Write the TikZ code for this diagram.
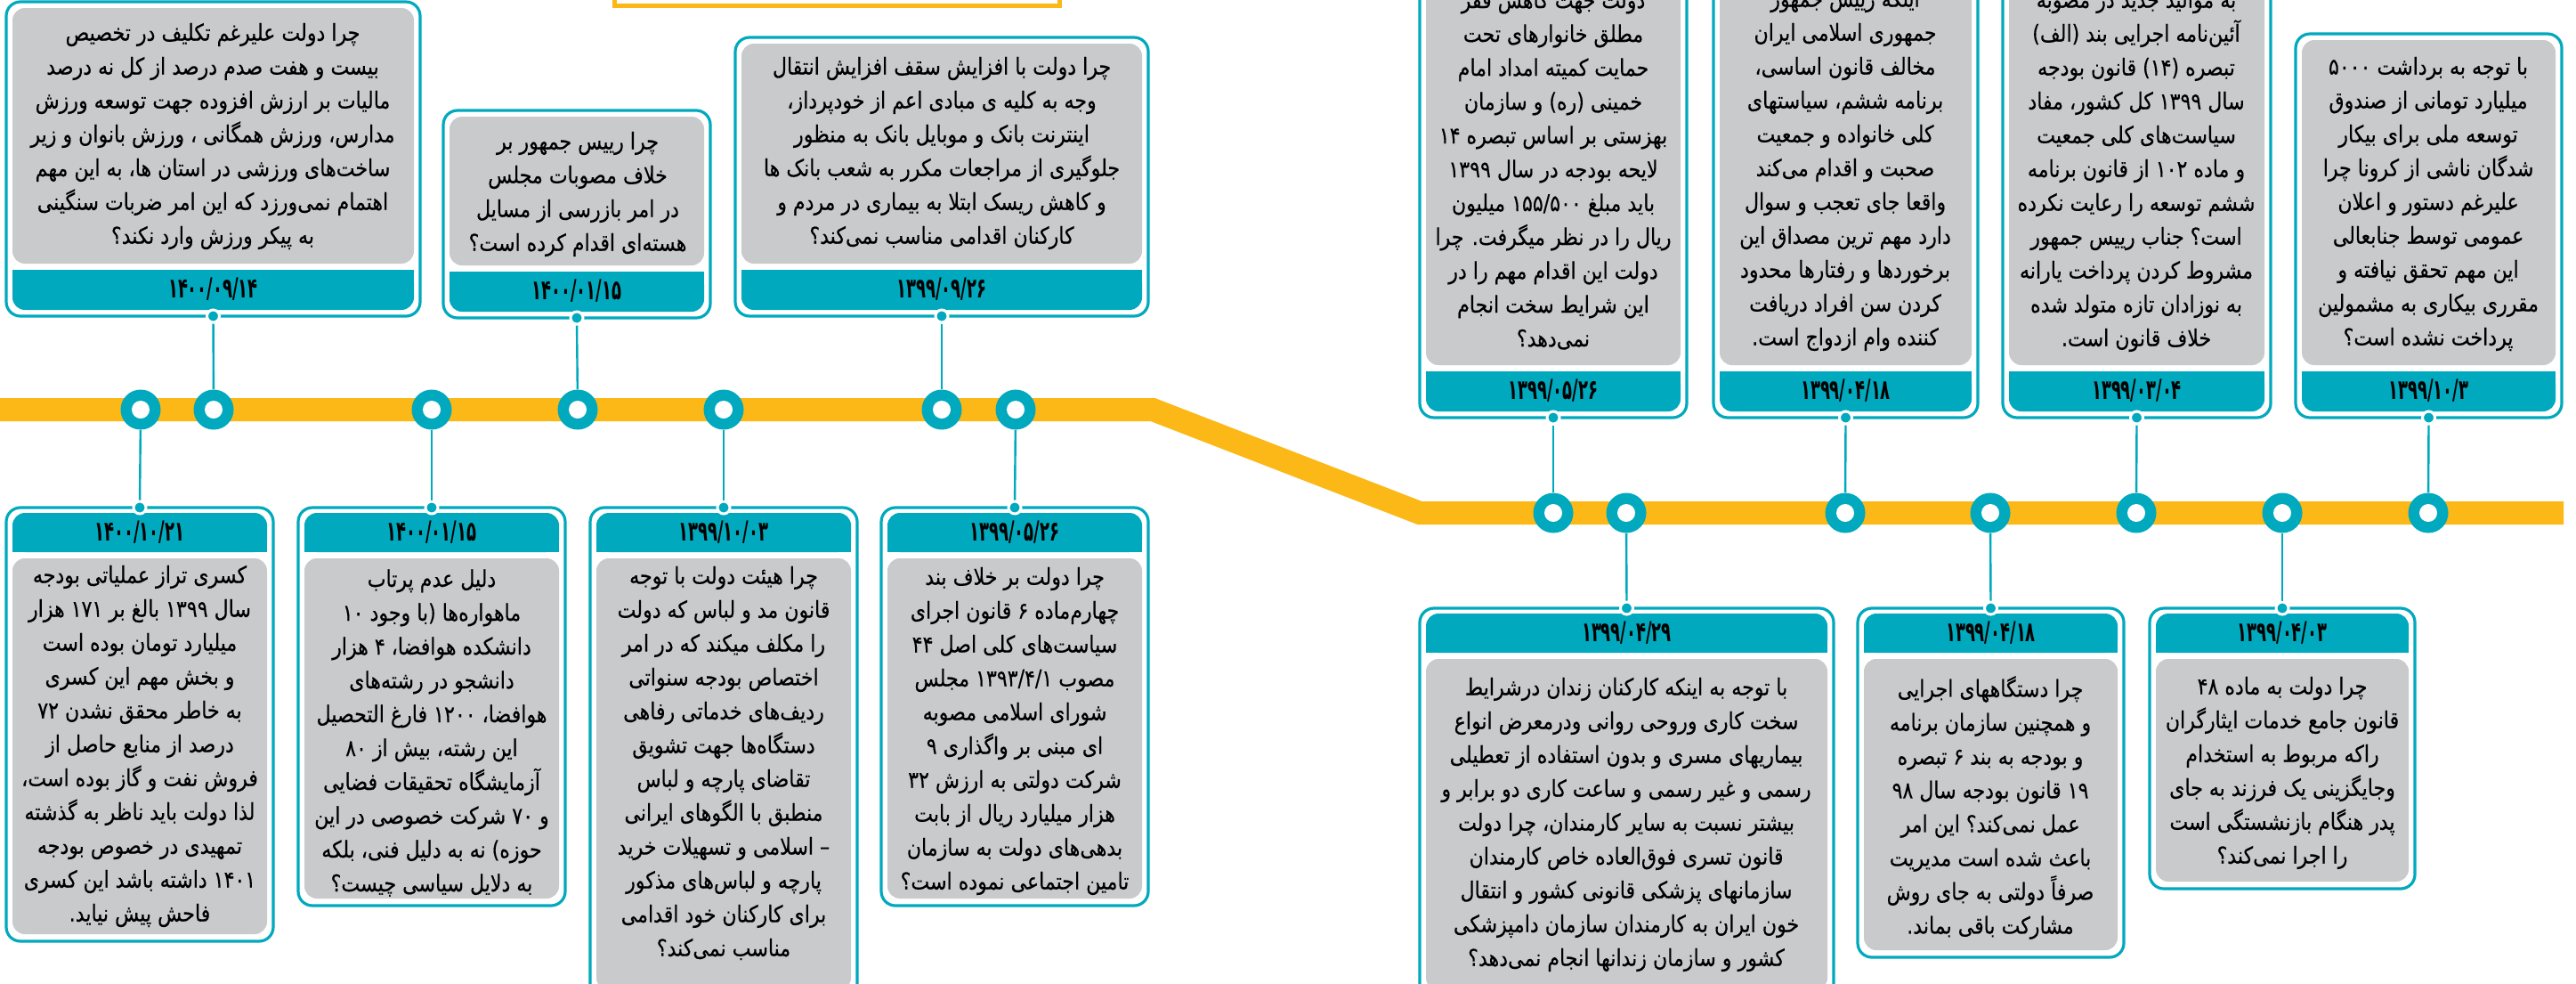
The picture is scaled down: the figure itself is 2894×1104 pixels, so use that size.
\documentclass[tikz,border=0pt]{standalone}
\usepackage{fontspec}
\newfontfamily\fa[Script=Arabic,FakeStretch=0.85,FakeBold=0.4]{DejaVu Sans}
\newfontfamily\fadate[Script=Arabic,FakeStretch=0.58]{DejaVu Sans}
\TeXXeTstate=1
\newcommand\RL[1]{\beginR #1\endR}
\definecolor{tl}{HTML}{00A9BD}
\definecolor{gbox}{HTML}{C9CACC}
\definecolor{yel}{HTML}{FBB817}
\tikzset{
 cardborder/.style={draw=tl, line width=1.6pt, rounded corners=8pt, fill=white},
 graybox/.style={fill=gbox, rounded corners=7pt},
 datebar/.style={fill=tl},
 datetext/.style={font=\fadate\bfseries\fontsize{15.5}{18}\selectfont, inner sep=0pt},
 body/.style={font=\fa\fontsize{13}{19}\selectfont, align=center, inner sep=0pt},
 carddot/.style={circle, fill=tl, draw=white, line width=1.5pt, minimum size=7pt, inner sep=0pt},
 tlcircle/.style={circle, fill=tl, minimum size=22.5pt, inner sep=0pt,
   path picture={\fill[white] (path picture bounding box.center) circle (5pt);}},
 conn/.style={draw=tl, line width=1.2pt},
 band/.style={draw=yel, line width=13pt},
}
\newcommand\topcard[6]{%
 \path[cardborder] (#2,#3) rectangle (#4,#5);
 \path[graybox] (#2+7,#3+7) rectangle (#4-7,#5-59);
 \path[datebar, rounded corners=7pt] (#2+7,#5-52) rectangle (#4-7,#5-7);
 \path[datebar] (#2+7,#5-52) rectangle (#4-7,#5-28);
 \node[datetext] (#1date) at ({(#2+#4)/2},#5-30) {#6};
 \node[carddot] (#1dot) at ({(#2+#4)/2},#5) {};
}
\newcommand\botcard[6]{%
 \path[cardborder] (#2,#3) rectangle (#4,#5);
 \path[datebar, rounded corners=7pt] (#2+7,#3+6) rectangle (#4-7,#3+50);
 \path[datebar] (#2+7,#3+28) rectangle (#4-7,#3+50);
 \path[graybox] (#2+7,#3+57) rectangle (#4-7,#5-8);
 \node[datetext] (#1date) at ({(#2+#4)/2},#3+28) {#6};
 \node[carddot] (#1dot) at ({(#2+#4)/2},#3) {};
}
\begin{document}
\begin{tikzpicture}[x=0.5pt,y=-0.5pt]
\useasboundingbox (0,0) rectangle (2894,1104);
\clip (0,0) rectangle (2894,1104);
\fill[white] (0,0) rectangle (2894,1104);
% top remnant
\path[draw=yel, line width=2.5pt, fill=white] (690,-30) rectangle (1190,6);
% timeline band
\draw[band] (-10,460) -- (1295,460) -- (1595,576) -- (2880,576);
% top cards
\topcard{A}{7}{2}{472}{355}{۱۴۰۰/۰۹/۱۴}
\topcard{B}{498}{124}{798}{357}{۱۴۰۰/۰۱/۱۵}
\topcard{C}{826}{42}{1290}{355}{۱۳۹۹/۰۹/۲۶}
\topcard{D}{1595}{-60}{1895}{469}{۱۳۹۹/۰۵/۲۶}
\topcard{E}{1925}{-60}{2222}{469}{۱۳۹۹/۰۴/۱۸}
\topcard{F}{2250}{-60}{2551}{469}{۱۳۹۹/۰۳/۰۴}
\topcard{G}{2579}{38}{2878}{469}{۱۳۹۹/۱۰/۳}
% bottom cards
\botcard{K}{7}{570}{307}{1057}{۱۴۰۰/۱۰/۲۱}
\botcard{L}{335}{570}{635}{1017}{۱۴۰۰/۰۱/۱۵}
\botcard{M}{663}{570}{963}{1120}{۱۳۹۹/۱۰/۰۳}
\botcard{N}{990}{570}{1290}{1017}{۱۳۹۹/۰۵/۲۶}
\botcard{H}{1595}{683}{2060}{1120}{۱۳۹۹/۰۴/۲۹}
\botcard{I}{2087}{683}{2386}{1075}{۱۳۹۹/۰۴/۱۸}
\botcard{J}{2415}{683}{2713}{998}{۱۳۹۹/۰۴/۰۳}
% texts
\node[body] (Atext) at (239,153) {\RL{چرا دولت علیرغم تکلیف در تخصیص}\\\RL{بیست و هفت صدم درصد از کل نه درصد}\\\RL{مالیات بر ارزش افزوده جهت توسعه ورزش}\\\RL{مدارس، ورزش همگانی ، ورزش بانوان و زیر}\\\RL{ساخت‌های ورزشی در استان ها، به این مهم}\\\RL{اهتمام نمی‌ورزد که این امر ضربات سنگینی}\\\RL{به پیکر ورزش وارد نکند؟}};
\node[body] (Btext) at (649,218) {\RL{چرا رییس جمهور بر}\\\RL{خلاف مصوبات مجلس}\\\RL{در امر بازرسی از مسایل}\\\RL{هسته‌ای اقدام کرده است؟}};
\node[body] (Ctext) at (1058,172) {\RL{چرا دولت با افزایش سقف افزایش انتقال}\\\RL{وجه به کلیه ی مبادی اعم از خودپرداز،}\\\RL{اینترنت بانک و موبایل بانک به منظور}\\\RL{جلوگیری از مراجعات مکرر به شعب بانک ها}\\\RL{و کاهش ریسک ابتلا به بیماری در مردم و}\\\RL{کارکنان اقدامی مناسب نمی‌کند؟}};
\node[body] (Dtext) at (1745,191) {\RL{دولت جهت کاهش فقر}\\\RL{مطلق خانوارهای تحت}\\\RL{حمایت کمیته امداد امام}\\\RL{خمینی (ره) و سازمان}\\\RL{بهزستی بر اساس تبصره ۱۴}\\\RL{لایحه بودجه در سال ۱۳۹۹}\\\RL{باید مبلغ ۱۵۵/۵۰۰ میلیون}\\\RL{ریال را در نظر میگرفت. چرا}\\\RL{دولت این اقدام مهم را در}\\\RL{این شرایط سخت انجام}\\\RL{نمی‌دهد؟}};
\node[body] (Etext) at (2073,191) {\RL{اینکه رییس جمهور}\\\RL{جمهوری اسلامی ایران}\\\RL{مخالف قانون اساسی،}\\\RL{برنامه ششم، سیاستهای}\\\RL{کلی خانواده و جمعیت}\\\RL{صحبت و اقدام می‌کند}\\\RL{واقعا جای تعجب و سوال}\\\RL{دارد مهم ترین مصداق این}\\\RL{برخوردها و رفتارها محدود}\\\RL{کردن سن افراد دریافت}\\\RL{کننده وام ازدواج است.}};
\node[body] (Ftext) at (2400,192) {\RL{به موالید جدید در مصوبه}\\\RL{آئین‌نامه اجرایی بند (الف)}\\\RL{تبصره (۱۴) قانون بودجه}\\\RL{سال ۱۳۹۹ کل کشور، مفاد}\\\RL{سیاست‌های کلی جمعیت}\\\RL{و ماده ۱۰۲ از قانون برنامه}\\\RL{ششم توسعه را رعایت نکرده}\\\RL{است؟ جناب رییس جمهور}\\\RL{مشروط کردن پرداخت یارانه}\\\RL{به نوزادان تازه متولد شده}\\\RL{خلاف قانون است.}};
\node[body] (Gtext) at (2728,229) {\RL{با توجه به برداشت ۵۰۰۰}\\\RL{میلیارد تومانی از صندوق}\\\RL{توسعه ملی برای بیکار}\\\RL{شدگان ناشی از کرونا چرا}\\\RL{علیرغم دستور و اعلان}\\\RL{عمومی توسط جنابعالی}\\\RL{این مهم تحقق نیافته و}\\\RL{مقرری بیکاری به مشمولین}\\\RL{پرداخت نشده است؟}};
\node[body] (Ktext) at (157,838) {\RL{کسری تراز عملیاتی بودجه}\\\RL{سال ۱۳۹۹ بالغ بر ۱۷۱ هزار}\\\RL{میلیارد تومان بوده است}\\\RL{و بخش مهم این کسری}\\\RL{به خاطر محقق نشدن ۷۲}\\\RL{درصد از منابع حاصل از}\\\RL{فروش نفت و گاز بوده است،}\\\RL{لذا دولت باید ناظر به گذشته}\\\RL{تمهیدی در خصوص بودجه}\\\RL{۱۴۰۱ داشته باشد این کسری}\\\RL{فاحش پیش نیاید.}};
\node[body] (Ltext) at (485,823) {\RL{دلیل عدم پرتاب}\\\RL{ماهواره‌ها (با وجود ۱۰}\\\RL{دانشکده هوافضا، ۴ هزار}\\\RL{دانشجو در رشته‌های}\\\RL{هوافضا، ۱۲۰۰ فارغ التحصیل}\\\RL{این رشته، بیش از ۸۰}\\\RL{آزمایشگاه تحقیقات فضایی}\\\RL{و ۷۰ شرکت خصوصی در این}\\\RL{حوزه) نه به دلیل فنی، بلکه}\\\RL{به دلایل سیاسی چیست؟}};
\node[body] (Mtext) at (813,857) {\RL{چرا هیئت دولت با توجه}\\\RL{قانون مد و لباس که دولت}\\\RL{را مکلف میکند که در امر}\\\RL{اختصاص بودجه سنواتی}\\\RL{ردیف‌های خدماتی رفاهی}\\\RL{دستگاه‌ها جهت تشویق}\\\RL{تقاضای پارچه و لباس}\\\RL{منطبق با الگوهای ایرانی}\\\RL{– اسلامی و تسهیلات خرید}\\\RL{پارچه و لباس‌های مذکور}\\\RL{برای کارکنان خود اقدامی}\\\RL{مناسب نمی‌کند؟}};
\node[body] (Ntext) at (1140,821) {\RL{چرا دولت بر خلاف بند}\\\RL{چهارم‌ماده ۶ قانون اجرای}\\\RL{سیاست‌های کلی اصل ۴۴}\\\RL{مصوب ۱۳۹۳/۴/۱ مجلس}\\\RL{شورای اسلامی مصوبه}\\\RL{ای مبنی بر واگذاری ۹}\\\RL{شرکت دولتی به ارزش ۳۲}\\\RL{هزار میلیارد ریال از بابت}\\\RL{بدهی‌های دولت به سازمان}\\\RL{تامین اجتماعی نموده است؟}};
\node[body] (Htext) at (1827,926) {\RL{با توجه به اینکه کارکنان زندان درشرایط}\\\RL{سخت کاری وروحی روانی ودرمعرض انواع}\\\RL{بیماریهای مسری و بدون استفاده از تعطیلی}\\\RL{رسمی و غیر رسمی و ساعت کاری دو برابر و}\\\RL{بیشتر نسبت به سایر کارمندان، چرا دولت}\\\RL{قانون تسری فوق‌العاده خاص کارمندان}\\\RL{سازمانهای پزشکی قانونی کشور و انتقال}\\\RL{خون ایران به کارمندان سازمان دامپزشکی}\\\RL{کشور و سازمان زندانها انجام نمی‌دهد؟}};
\node[body] (Itext) at (2236,907) {\RL{چرا دستگاههای اجرایی}\\\RL{و همچنین سازمان برنامه}\\\RL{و بودجه به بند ۶ تبصره}\\\RL{۱۹ قانون بودجه سال ۹۸}\\\RL{عمل نمی‌کند؟ این امر}\\\RL{باعث شده است مدیریت}\\\RL{صرفاً دولتی به جای روش}\\\RL{مشارکت باقی بماند.}};
\node[body] (Jtext) at (2564,868) {\RL{چرا دولت به ماده ۴۸}\\\RL{قانون جامع خدمات ایثارگران}\\\RL{راکه مربوط به استخدام}\\\RL{وجایگزینی یک فرزند به جای}\\\RL{پدر هنگام بازنشستگی است}\\\RL{را اجرا نمی‌کند؟}};
% timeline circles
\node[tlcircle] (cK) at (158,460) {};
\node[tlcircle] (cA) at (240,460) {};
\node[tlcircle] (cL) at (485,460) {};
\node[tlcircle] (cB) at (649,460) {};
\node[tlcircle] (cM) at (813,460) {};
\node[tlcircle] (cC) at (1058,460) {};
\node[tlcircle] (cN) at (1141,460) {};
\node[tlcircle] (cD) at (1745,576) {};
\node[tlcircle] (cH) at (1827,576) {};
\node[tlcircle] (cE) at (2073,576) {};
\node[tlcircle] (cI) at (2236,576) {};
\node[tlcircle] (cF) at (2400,576) {};
\node[tlcircle] (cJ) at (2564,576) {};
\node[tlcircle] (cG) at (2728,576) {};
% connectors
\foreach \a/\b in {Adot/cA,Kdot/cK,Bdot/cB,Ldot/cL,Mdot/cM,Cdot/cC,Ndot/cN,Ddot/cD,Hdot/cH,Edot/cE,Idot/cI,Fdot/cF,Jdot/cJ,Gdot/cG}
  \draw[conn] (\a) -- (\b);
\end{tikzpicture}
\end{document}
